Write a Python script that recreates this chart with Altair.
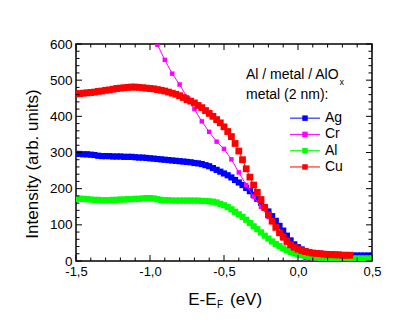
import altair as alt
import pandas as pd

# ---------------- data ----------------
energy = [
    -1.500, -1.475, -1.450, -1.425, -1.400, -1.375, -1.350, -1.325, -1.300, -1.275,
    -1.250, -1.225, -1.200, -1.175, -1.150, -1.125, -1.100, -1.075, -1.050, -1.025,
    -1.000, -0.975, -0.950, -0.925, -0.900, -0.875, -0.850, -0.825, -0.800, -0.775,
    -0.750, -0.725, -0.700, -0.675, -0.650, -0.625, -0.600, -0.575, -0.550, -0.525,
    -0.500, -0.475, -0.450, -0.425, -0.400, -0.375, -0.350, -0.325, -0.300, -0.275,
    -0.250, -0.225, -0.200, -0.175, -0.150, -0.125, -0.100, -0.075, -0.050, -0.025,
    0.000, 0.025, 0.050, 0.075, 0.100, 0.125, 0.150, 0.175, 0.200, 0.225,
    0.250, 0.275, 0.300, 0.325, 0.350, 0.375, 0.400, 0.425, 0.450, 0.475, 0.500,
]

ag = [
    296, 296, 295, 295, 294, 293, 291, 290, 290, 290,
    289, 289, 289, 288, 288, 288, 287, 286, 286, 285,
    284, 283, 282, 281, 280, 279, 278, 277, 276, 275,
    274, 273, 271, 270, 268, 265, 262, 257, 252, 247,
    242, 237, 231, 224, 217, 210, 202, 193, 183, 172,
    161, 149, 137, 124, 111, 97, 84, 70, 57, 46,
    38, 32, 27, 24, 22, 21, 20, 19, 18, 18,
    17, 17, 16, 16, 16, 15, 15, 15, 15, 15, 15,
]

al = [
    171, 172, 172, 171, 170, 169, 169, 168, 168, 168,
    169, 169, 170, 170, 171, 171, 172, 172, 173, 174,
    174, 173, 171, 169, 168, 168, 167, 167, 167, 167,
    167, 167, 167, 167, 166, 166, 165, 164, 162, 158,
    154, 149, 143, 136, 129, 122, 114, 105, 96, 88,
    79, 70, 62, 54, 47, 41, 35, 30, 25, 21,
    18, 16, 14, 12, 11, 10, 9, 9, 8, 8,
    8, 8, 7, 7, 7, 7, 7, 7, 7, 7, 7,
]

cu = [
    462, 463, 464, 465, 466, 467, 469, 470, 472, 473,
    475, 477, 478, 479, 480, 481, 481, 480, 479, 478,
    477, 476, 474, 472, 470, 467, 464, 461, 457, 452,
    446, 442, 437, 430, 424, 416, 408, 400, 391, 382,
    371, 358, 344, 325, 304, 280, 255, 232, 210, 190,
    170, 148, 128, 110, 93, 78, 66, 54, 45, 38,
    33, 29, 26, 24, 22, 21, 20, 19, 18, 18,
    17, 17, 16, 16, 16,
]

cr_energy = [
    -0.95, -0.90, -0.85, -0.80, -0.75, -0.70, -0.65, -0.60, -0.55, -0.50,
    -0.45, -0.40, -0.35, -0.30, -0.25, -0.20, -0.15, -0.10, -0.05, 0.00,
    0.05, 0.10, 0.15, 0.20, 0.25, 0.30, 0.35, 0.40, 0.45, 0.50,
]
cr = [
    598, 556, 518, 488, 453, 420, 386, 357, 330, 310,
    281, 245, 210, 178, 150, 122, 93, 63, 38, 18,
    7, 2, 0, -1, -2, -2, -2, -2, -2, -2,
]

names = ["Ag", "Cr", "Al", "Cu"]
colors = ["#0000ff", "#ff00ff", "#00ff00", "#ff0000"]

x_major = [-1.5, -1.0, -0.5, 0.0, 0.5]
x_minor = [-1.4, -1.3, -1.2, -1.1, -0.9, -0.8, -0.7, -0.6, -0.4, -0.3,
           -0.2, -0.1, 0.1, 0.2, 0.3, 0.4]
y_major = [0, 100, 200, 300, 400, 500, 600]
y_minor = [20, 40, 60, 80, 120, 140, 160, 180, 220, 240, 260, 280,
           320, 340, 360, 380, 420, 440, 460, 480, 520, 540, 560, 580]

legend_y = [395, 350, 305, 260]

# ---------------- chart ----------------
W, H = 296, 217
FONT = "Liberation Sans"

xs = alt.Scale(domain=[-1.5, 0.5], nice=False, zero=False)
ys = alt.Scale(domain=[0, 600], nice=False, zero=False)
cscale = alt.Scale(domain=names, range=colors)

series = {
    "Ag": (energy[:len(ag)], ag),
    "Cr": (cr_energy, cr),
    "Al": (energy[:len(al)], al),
    "Cu": (energy[:len(cu)], cu),
}

x_axis = alt.Axis(
    values=x_major,
    labelExpr="replace(replace(format(datum.value, '.1f'), '.', ','), '\u2212', '-')",
    ticks=False, domain=False, grid=False, title=None,
    labelFont=FONT, labelFontSize=13, labelColor="black",
    labelPadding=4, labelFlush=False, labelOverlap=False,
)
y_axis = alt.Axis(
    values=y_major, format="d",
    ticks=False, domain=False, grid=False, title=None,
    labelFont=FONT, labelFontSize=13.5, labelColor="black",
    labelPadding=4, labelOverlap=False,
)


def XE(field="E"):
    return alt.X(f"{field}:Q", scale=xs, axis=x_axis)


def YI(field="I"):
    return alt.Y(f"{field}:Q", scale=ys, axis=y_axis)


layers = []
for name in names:
    ex, vals = series[name]
    d = pd.DataFrame({"E": ex, "I": vals, "name": name})
    base = alt.Chart(d)
    C = alt.Color("name:N", scale=cscale, legend=None)
    size = 20 if name == "Cr" else (46 if name == "Cu" else 38)
    layers.append(base.mark_line(strokeWidth=1, clip=True).encode(x=XE(), y=YI(), color=C))
    layers.append(base.mark_point(shape="square", filled=True, size=size,
                                  opacity=1, clip=True).encode(x=XE(), y=YI(), color=C))


def xticks(vals, length, top):
    d = pd.DataFrame({"E": vals})
    y0 = 0 if top else H
    y1 = length if top else H - length
    return alt.Chart(d).mark_rule(color="black", strokeWidth=1).encode(
        x=XE(), y=alt.value(y0), y2=alt.value(y1))


def yticks(vals, length, right):
    d = pd.DataFrame({"I": vals})
    x0 = W if right else 0
    x1 = W - length if right else length
    return alt.Chart(d).mark_rule(color="black", strokeWidth=1).encode(
        y=YI(), x=alt.value(x0), x2=alt.value(x1))


layers += [
    xticks(x_major, 6, False), xticks(x_minor, 3.5, False),
    xticks(x_major, 6, True), xticks(x_minor, 3.5, True),
    yticks(y_major, 6, False), yticks(y_minor, 3.5, False),
    yticks(y_major, 6, True), yticks(y_minor, 3.5, True),
]

# legend
leg = pd.DataFrame({"name": names, "I": legend_y})
lb = alt.Chart(leg)
LC = alt.Color("name:N", scale=cscale, legend=None)
layers.append(lb.mark_rule(strokeWidth=1).encode(
    x=alt.value(214), x2=alt.value(244), y=YI(), color=LC))
layers.append(lb.mark_point(shape="square", filled=True, size=30, opacity=1).encode(
    x=alt.value(229), y=YI(), color=LC))
layers.append(lb.mark_text(align="left", baseline="middle", font=FONT,
                           fontSize=14, color="black").encode(
    x=alt.value(249), y=YI(), text="name:N"))


def label(text, x, y, size=14, align="left", angle=0):
    kw = dict(align=align, baseline="middle", font=FONT, fontSize=size,
              color="black", text=text)
    if angle:
        kw["angle"] = angle
    return alt.Chart(pd.DataFrame({"a": [0]})).mark_text(**kw).encode(
        x=alt.value(x), y=alt.value(y))


layers += [
    label("Al / metal / AlO", 170, 31),
    label("x", 263.5, 38, size=9),
    label("metal (2 nm):", 170, 51),
    label("E-E", 140.5, 255.5, size=17, align="right"),
    label("F", 141, 261, size=10),
    label("(eV)", 154, 255.5, size=17),
    label("Intensity (arb. units)", -43, 120, size=17, align="center", angle=270),
]

chart = alt.layer(*layers).properties(
    width=W, height=H,
    autosize=alt.AutoSizeParams(type="none"),
    padding={"left": 68, "top": 36, "right": 30, "bottom": 60},
    background="white",
).configure_view(stroke="black", strokeWidth=1.5)

chart.save("out.html", embed_options={"renderer": "svg", "actions": False})
